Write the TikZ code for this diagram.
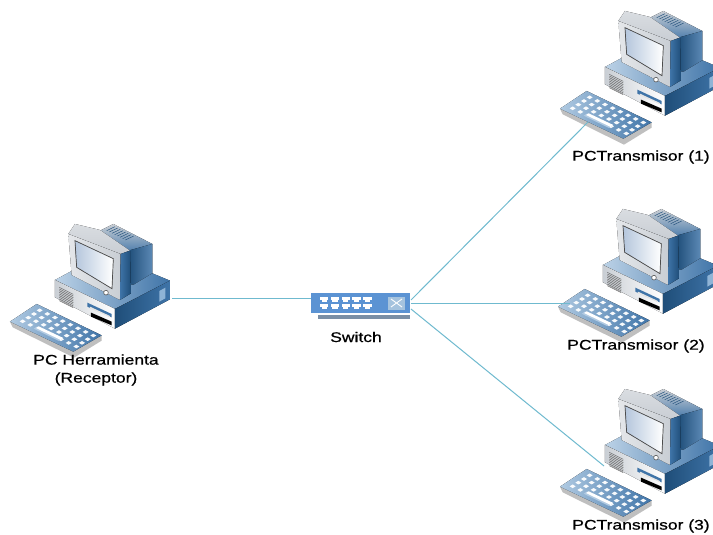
\documentclass[tikz,border=0pt]{standalone}
\usepackage{fontspec}
\setmainfont[FakeBold=0.6]{Liberation Sans}
\usetikzlibrary{calc}
\definecolor{linkc}{HTML}{6FBACF}
\definecolor{swb}{HTML}{5B93D3}
\definecolor{swd}{HTML}{7A8FA6}
\definecolor{dkb}{HTML}{1F4E79}
\definecolor{mdb}{HTML}{3F74A8}
\definecolor{ltb}{HTML}{8FB4D6}
\definecolor{frame}{HTML}{C9CED4}
\definecolor{scr}{HTML}{B4C6DC}
\tikzset{
  link/.style={linkc,line width=1pt},
  lab/.style={font=\fontsize{14}{18}\selectfont,align=center,inner sep=0pt,xscale=1.25,transform shape,text=black},
  pckey/.style={fill=white,draw=none,opacity=.95},
  pc/.pic={
    % rear of the monitor
    \fill[top color=frame,bottom color=mdb] (300,62)--(340,42)--(457,102)--(400,135)--cycle;
    \foreach \i in {0,...,7}{\draw[dkb,line width=.45pt] ($(345,50)+(\i*8,\i*4)$)--++(-25,12);}
    \fill[left color=dkb,right color=mdb!85!white] (385,122)--(457,102)--(457,195)--(390,232)--cycle;
    % base
    \fill[left color=ltb!60!white,right color=mdb] (165,210)--(215,183)--(400,225)--(457,190)--(510,212)--(345,297)--cycle;
    \fill[left color=frame,right color=white] (165,210)--(345,297)--(345,356)--(165,262)--cycle;
    \fill[left color=dkb,right color=mdb] (345,297)--(510,212)--(510,268)--(345,356)--cycle;
    \fill[ltb] (478,243)--(496,233)--(496,265)--(478,275)--cycle;
    \foreach \i in {0,...,8}{\draw[gray!80!black,line width=.5pt] ($(178,232)+(0,\i*5)$)--++(42,21);}
    \fill[mdb] (262,278)--(335,312)--(335,322)--(262,290)--cycle;
    \fill[white!80!gray] (270,290)--(330,318)--(330,322)--(270,295)--cycle;
    \fill[black] (273,308)--(335,335)--(335,346)--(273,320)--cycle;
    % monitor
    \fill[top color=frame!70!white,bottom color=frame] (205,72)--(225,42)--(300,60)--(390,122)--(362,132)--cycle;
    \fill[left color=frame!50!white,right color=frame] (205,72)--(362,132)--(360,270)--(215,195)--cycle;
    \fill[left color=mdb,right color=dkb] (362,132)--(390,122)--(393,250)--(360,270)--cycle;
    \fill[left color=scr,right color=white] (225,92)--(340,146)--(336,236)--(230,172)--cycle;
    \draw[black!70,line width=.7pt] (225,92)--(340,146)--(336,236)--(230,172)--cycle;
    \draw[gray!70!black,fill=white,line width=.6pt] (318,248) circle (7);
    % keyboard
    \fill[gray!50] (30,335)--(38,352)--(222,443)--(305,392)--(305,376)--(220,425)--cycle;
    \fill[left color=ltb!70!white,right color=mdb] (30,335)--(110,282)--(305,376)--(220,425)--cycle;
    \foreach \r in {0,...,3}{\foreach \c in {0,...,7}{
      \coordinate (kk) at ($(68,334)+\c*(23,10.8)+\r*(17,-11)$);
      \fill[pckey] ($(kk)+(-9,0)$)--($(kk)+(0,-5.5)$)--($(kk)+(9,0)$)--($(kk)+(0,5.5)$)--cycle;
    }}
    \fill[ltb!70!white] (101,356)--(110,350)--(186,387)--(177,393)--cycle;
    \fill[white] (108,354)--(116,349)--(190,384)--(182,390)--cycle;
  }
}
\begin{document}
\begin{tikzpicture}[x=1pt,y=-1pt]
  \useasboundingbox (0,0) rectangle (713,535);
  \clip (0,0) rectangle (713,535);
  \fill[white] (0,0) rectangle (713,535);
  % computers
  \pic[scale=.3333] at (0,210) {pc};
  \pic[scale=.3333] at (550,-3) {pc};
  \pic[scale=.3333] at (548,195) {pc};
  \pic[scale=.3333] at (550,375) {pc};
  % switch
  \fill[swd] (318,315) rectangle (410,319);
  \node[fill=swb,inner sep=0pt,minimum width=99pt,minimum height=20pt] (sw) at (360.5,303) {};
  \foreach \i in {0,...,4}{
    \fill[white] ($(320,297)+(\i*10.8,0)$) rectangle ++(8.3,3);
    \fill[white] ($(321.5,300)+(\i*10.8,0)$) rectangle ++(5.3,2);
    \fill[white] ($(320,304)+(\i*10.8,0)$) rectangle ++(8.3,2.5);
    \fill[white] ($(321.5,306.5)+(\i*10.8,0)$) rectangle ++(5.3,2);
  }
  \node[fill=ltb!80!white,inner sep=0pt,minimum width=17pt,minimum height=13pt] (swicon) at (396.5,303) {};
  \draw[white,line width=.9pt] (391,299)--(402,307) (391,307)--(402,299);
  % anchors
  \coordinate (pa) at (172,298);
  \coordinate (swl) at (311,298);
  \coordinate (swa) at (411,300);
  \coordinate (swb2) at (411,303);
  \coordinate (swc) at (411,309);
  \coordinate (pb) at (588,122);
  \coordinate (pd) at (570,303);
  \coordinate (pe) at (604,466);
  \draw[link] (pa)--(swl);
  \draw[link] (swa)--(pb);
  \draw[link] (swb2)--(pd);
  \draw[link] (swc)--(pe);
  % labels
  \node[lab] (l0) at (96,370) {PC Herramienta\\(Receptor)};
  \node[lab] (l1) at (356,337) {Switch};
  \node[lab] (l2) at (641,157) {PCTransmisor (1)};
  \node[lab] (l3) at (636,346) {PCTransmisor (2)};
  \node[lab] (l4) at (641,526) {PCTransmisor (3)};
\end{tikzpicture}
\end{document}
